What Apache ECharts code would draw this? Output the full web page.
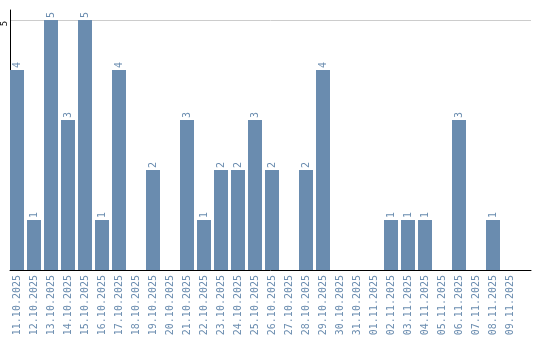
<!DOCTYPE html>
<html><head><meta charset="utf-8">
<script src="https://cdn.jsdelivr.net/npm/echarts@6/dist/echarts.min.js"></script>
<style>html,body{margin:0;padding:0;background:#fff}#c{width:540px;height:340px}</style>
</head><body><div id="c"></div>
<script>
const categories = ["11.10.2025","12.10.2025","13.10.2025","14.10.2025","15.10.2025","16.10.2025","17.10.2025","18.10.2025","19.10.2025","20.10.2025","21.10.2025","22.10.2025","23.10.2025","24.10.2025","25.10.2025","26.10.2025","27.10.2025","28.10.2025","29.10.2025","30.10.2025","31.10.2025","01.11.2025","02.11.2025","03.11.2025","04.11.2025","05.11.2025","06.11.2025","07.11.2025","08.11.2025","09.11.2025"];
const counts = [4,1,5,3,5,1,4,0,2,0,3,1,2,2,3,2,0,2,4,0,0,0,1,1,1,0,3,0,1,0];
const yTickLabels = [5];

const chart = echarts.init(document.getElementById('c'));
const font = 'DejaVu Sans Mono';
const yBase = {
  type: 'value', min: 0, max: 5.2, interval: 5
};
chart.setOption({
  animation: false,
  grid: [
    {left: 10, right: 9, top: 10, bottom: 70},
    {left: 8.5, right: 21.5, top: 10, bottom: 70}
  ],
  xAxis: [
    {type: 'category', gridIndex: 0, data: categories,
     axisLine: {lineStyle: {color: '#000', width: 1}},
     axisTick: {show: false}, axisLabel: {show: false}},
    {type: 'category', gridIndex: 1, data: categories,
     axisLine: {show: false},
     axisTick: {show: false},
     axisLabel: {rotate: 90, interval: 0, color: '#6a8caf', fontFamily: font, fontSize: 10, margin: 5}}
  ],
  yAxis: [
    Object.assign({}, yBase, {gridIndex: 0,
      axisLine: {show: true, lineStyle: {color: '#000', width: 1}},
      axisTick: {show: false},
      splitLine: {show: true, showMinLine: false, showMaxLine: false, lineStyle: {color: '#cccccc', width: 1}},
      axisLabel: {rotate: 90, color: '#000', fontFamily: font, fontSize: 9, margin: 1, padding: [0, 7, 0, 0],
        formatter: v => yTickLabels.includes(v) ? String(v) : ''}}),
    Object.assign({}, yBase, {gridIndex: 1,
      axisLine: {show: false}, axisTick: {show: false},
      splitLine: {show: false}, axisLabel: {show: false}})
  ],
  series: [{
    type: 'bar', xAxisIndex: 1, yAxisIndex: 1,
    data: counts.map(v => v === 0 ? null : v), barWidth: 14,
    itemStyle: {color: '#6a8caf'},
    label: {show: true, position: 'top', rotate: 90, align: 'left', verticalAlign: 'middle', distance: 2,
      color: '#6a8caf', fontFamily: font, fontSize: 10}
  }]
});
</script></body></html>
